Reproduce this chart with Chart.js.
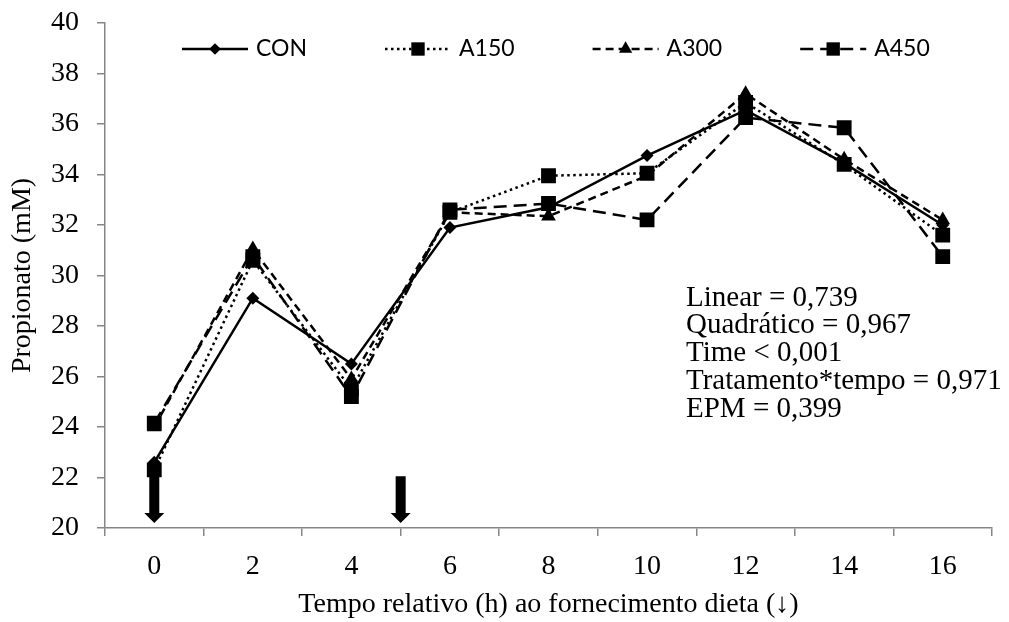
<!DOCTYPE html>
<html><head><meta charset="utf-8">
<script src="https://cdn.jsdelivr.net/npm/chart.js@4.4.1/dist/chart.umd.min.js"></script>
<style>html,body{margin:0;padding:0;background:#fff}#wrap{width:1009px;height:622px;position:relative}</style>
</head><body><div id="wrap"><canvas id="c" width="1009" height="622"></canvas></div>
<script>
// ---- data ----
const categories = ['0', '2', '4', '6', '8', '10', '12', '14', '16'];
const seriesNames = ['CON', 'A150', 'A300', 'A450'];
const conValues  = [22.6, 29.1, 26.5, 31.9, 32.7, 34.75, 36.55, 34.45, 32.0];
const a150Values = [22.3, 30.6, 25.5, 32.5, 33.95, 34.05, 36.85, 34.4, 31.6];
const a300Values = [24.0, 31.05, 25.9, 32.5, 32.35, 33.95, 37.2, 34.6, 32.2];
const a450Values = [24.15, 30.75, 25.2, 32.6, 32.85, 32.2, 36.25, 35.85, 30.75];
const yMin = 20, yMax = 40, yStep = 2;
const feedingHours = [0, 5];          // arrows (↓) = feeding times
const arrowTop = 22.05, arrowTip = 20.2;
const statsLines = ['Linear = 0,739', 'Quadrático = 0,967', 'Time < 0,001', 'Tratamento*tempo = 0,971', 'EPM = 0,399'];
const xTitle = 'Tempo relativo (h) ao fornecimento dieta (↓)';
const yTitle = 'Propionato (mM)';

const serif = '"Liberation Serif", "Times New Roman", serif';
const AXIS = '#868686';

const styles = [
  {dash: [], pointStyle: 'rectRot', radius: 6.5},
  {dash: [2.5, 3.5], pointStyle: 'rect', radius: 10.5},
  {dash: [8, 5], pointStyle: 'triangle', radius: 8.5},
  {dash: [13, 7], pointStyle: 'rect', radius: 10.5}
];
const allValues = [conValues, a150Values, a300Values, a450Values];

const datasets = seriesNames.map((name, i) => ({
  label: name,
  data: allValues[i],
  borderColor: '#000',
  backgroundColor: '#000',
  borderWidth: 2.5,
  borderDash: styles[i].dash,
  pointStyle: styles[i].pointStyle,
  pointRadius: styles[i].radius,
  pointBorderWidth: 0,
  pointBackgroundColor: '#000',
  tension: 0,
  fill: false
}));

const overlay = {
  id: 'overlay',
  beforeDatasetsDraw(chart) {
    const {ctx, scales: {x, y}} = chart;
    ctx.save();
    ctx.fillStyle = '#000';
    feedingHours.forEach(h => {
      const cx = x.getPixelForValue(h / 2);
      const yT = y.getPixelForValue(arrowTop), yB = y.getPixelForValue(arrowTip);
      const sw = 5, hw = 10, hh = 10;
      ctx.beginPath();
      ctx.moveTo(cx - sw, yT); ctx.lineTo(cx + sw, yT); ctx.lineTo(cx + sw, yB - hh);
      ctx.lineTo(cx + hw, yB - hh); ctx.lineTo(cx, yB); ctx.lineTo(cx - hw, yB - hh);
      ctx.lineTo(cx - sw, yB - hh); ctx.closePath(); ctx.fill();
    });
    ctx.restore();
  },
  afterDraw(chart) {
    const {ctx, chartArea} = chart;
    ctx.save();
    // legend
    let sx = chartArea.left + 77;
    const ly = chartArea.top + 26;
    ctx.font = '23px Lato, "Open Sans", sans-serif';
    ctx.textBaseline = 'middle';
    ctx.textAlign = 'left';
    chart.data.datasets.forEach((ds, i) => {
      const len = 66;
      ctx.strokeStyle = '#000'; ctx.fillStyle = '#000';
      ctx.lineWidth = ds.borderWidth;
      ctx.setLineDash(ds.borderDash);
      ctx.beginPath(); ctx.moveTo(sx, ly); ctx.lineTo(sx + len, ly); ctx.stroke();
      ctx.setLineDash([]);
      Chart.helpers.drawPoint(ctx, {pointStyle: ds.pointStyle, radius: ds.pointRadius * 0.9, borderWidth: 0, rotation: 0}, sx + len / 2, ly);
      ctx.fillStyle = '#000';
      const tx = sx + len + 8;
      ctx.fillText(ds.label, tx, ly);
      sx = tx + ctx.measureText(ds.label).width + 78;
    });
    // statistics
    ctx.font = '29px ' + serif;
    ctx.fillStyle = '#000';
    statsLines.forEach((t, i) => ctx.fillText(t, 686, 298 + i * 27.75));
    ctx.restore();
  }
};

new Chart(document.getElementById('c'), {
  type: 'line',
  data: {labels: categories, datasets},
  plugins: [overlay],
  options: {
    responsive: false,
    animation: false,
    events: [],
    layout: {padding: {top: 23, right: 17, bottom: 0, left: 0}},
    plugins: {legend: {display: false}, tooltip: {enabled: false}},
    scales: {
      x: {
        type: 'category',
        offset: true,
        grid: {offset: true, drawOnChartArea: false, drawTicks: true, tickLength: 8, color: AXIS, lineWidth: 1.5},
        border: {color: AXIS, width: 1.5},
        ticks: {font: {family: serif, size: 28}, color: '#000', padding: 14, maxRotation: 0, autoSkip: false},
        title: {display: true, text: xTitle, font: {family: serif, size: 28}, color: '#000', padding: {top: 0, bottom: 1}},
        afterFit(s) { s.height = 94; s.paddingLeft = 0; s.paddingRight = 0; }
      },
      y: {
        min: yMin, max: yMax,
        grid: {drawOnChartArea: false, drawTicks: true, tickLength: 8, color: AXIS, lineWidth: 1.5},
        border: {color: AXIS, width: 1.5},
        ticks: {stepSize: yStep, font: {family: serif, size: 28}, color: '#000', padding: 18},
        title: {display: true, text: yTitle, font: {family: serif, size: 28}, color: '#000', padding: {top: 6, bottom: 0}},
        afterFit(s) { s.width = 105; s.paddingTop = 0; s.paddingBottom = 0; }
      }
    }
  }
});
</script></body></html>
